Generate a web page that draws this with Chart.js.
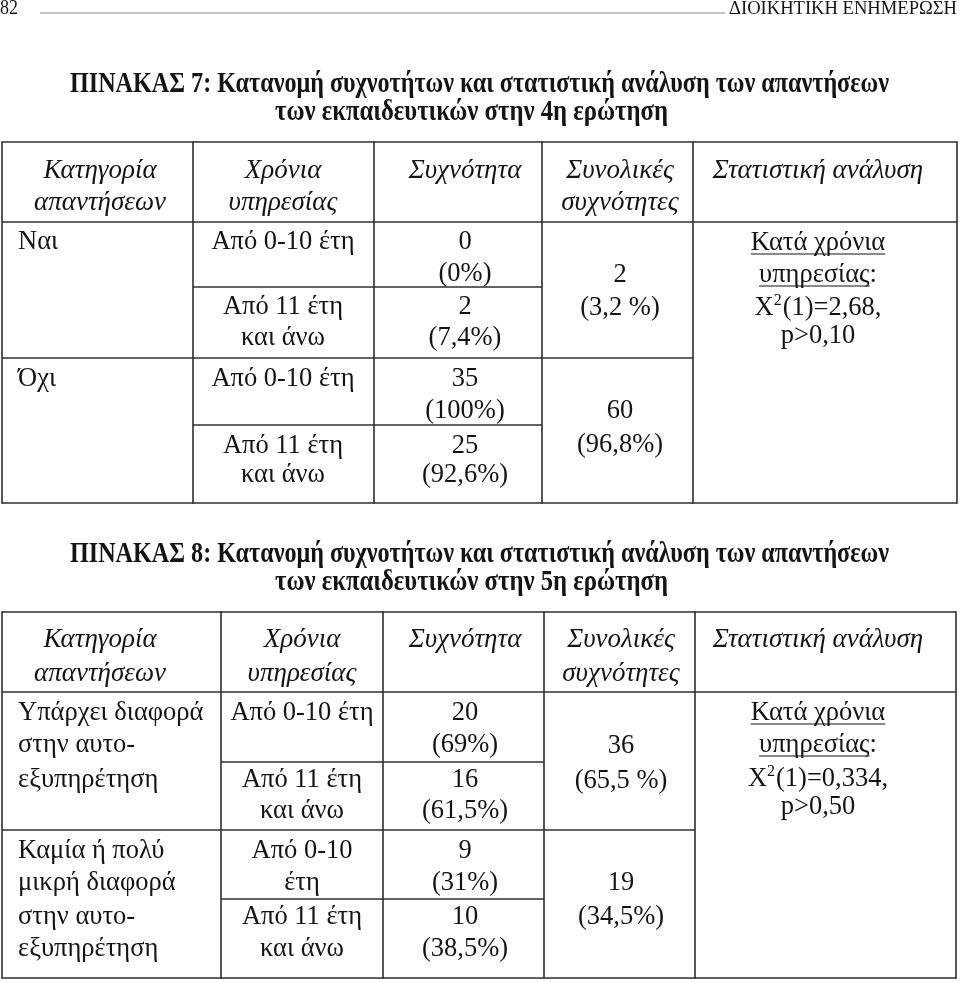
<!DOCTYPE html>
<html lang="el">
<head>
<meta charset="utf-8">
<title>ΠΙΝΑΚΑΣ 7 και 8</title>
<script src="https://cdn.jsdelivr.net/npm/chart.js@4.4.1/dist/chart.umd.min.js"></script>
<style>
  html, body { margin: 0; padding: 0; background: #ffffff; }
  #wrap { width: 960px; height: 982px; position: relative; }
  canvas { display: block; }
</style>
</head>
<body>
<div id="wrap"><canvas id="c" width="960" height="982"></canvas></div>
<script>
// ---------------- DATA ----------------
const pageNumber = "82";
const journalName = "ΔΙΟΙΚΗΤΙΚΗ ΕΝΗΜΕΡΩΣΗ";

const columnHeaders = [
  ["Κατηγορία", "απαντήσεων"],
  ["Χρόνια", "υπηρεσίας"],
  ["Συχνότητα"],
  ["Συνολικές", "συχνότητες"],
  ["Στατιστική ανάλυση"]
];
const statLabel = ["Κατά χρόνια", "υπηρεσίας"];

// Table 7
const t7Title = ["ΠΙΝΑΚΑΣ 7: Κατανομή συχνοτήτων και στατιστική ανάλυση των απαντήσεων",
                 "των εκπαιδευτικών στην 4η ερώτηση"];
const t7Categories = [["Ναι"], ["Όχι"]];
const t7Service = [["Από 0-10 έτη"], ["Από 11 έτη", "και άνω"], ["Από 0-10 έτη"], ["Από 11 έτη", "και άνω"]];
const t7Freq = [0, 2, 35, 25];
const t7FreqPct = ["0%", "7,4%", "100%", "92,6%"];
const t7Totals = [2, 60];
const t7TotalsPct = ["3,2 %", "96,8%"];
const t7Df = 1;
const t7Chi = "2,68";
const t7P = "0,10";

// Table 8
const t8Title = ["ΠΙΝΑΚΑΣ 8: Κατανομή συχνοτήτων και στατιστική ανάλυση των απαντήσεων",
                 "των εκπαιδευτικών στην 5η ερώτηση"];
const t8Categories = [["Υπάρχει διαφορά", "στην αυτο-", "εξυπηρέτηση"],
                      ["Καμία ή πολύ", "μικρή διαφορά", "στην αυτο-", "εξυπηρέτηση"]];
const t8Service = [["Από 0-10 έτη"], ["Από 11 έτη", "και άνω"], ["Από 0-10", "έτη"], ["Από 11 έτη", "και άνω"]];
const t8Freq = [20, 16, 9, 10];
const t8FreqPct = ["69%", "61,5%", "31%", "38,5%"];
const t8Totals = [36, 19];
const t8TotalsPct = ["65,5 %", "34,5%"];
const t8Df = 1;
const t8Chi = "0,334";
const t8P = "0,50";

// ---------------- LAYOUT (positions in page units) ----------------
const layout7 = {
  cols: [2, 193, 374, 542, 693, 957],
  top: 142, headBottom: 222, subLines: [287, 425], mid: 358, bottom: 503,
  headBase: [178, 210],
  catBase: [[249], [386]],
  subBase: [[249, 281], [314, 345], [386, 418], [453, 482]],
  totBase: [[282, 315], [418, 452]],
  statBase: [250, 282, 315, 343],
  centers: [100, 283, 465, 620, 818],
  catX: 18,
  titleBase: [92, 120]
};
const layout8 = {
  cols: [2, 221, 383, 544, 695, 956],
  top: 612, headBottom: 692, subLines: [762, 899], mid: 830, bottom: 978,
  headBase: [647, 681],
  catBase: [[720, 752, 787], [858, 890, 924, 956]],
  subBase: [[720, 752], [787, 818], [858, 890], [924, 956]],
  totBase: [[753, 788], [890, 924]],
  statBase: [720, 752, 786, 814],
  centers: [100, 302, 465, 621, 818],
  catX: 18,
  titleBase: [562, 590]
};
const titleSpans = [[70, 889], [275, 668]];

const tables = [
  { title: t7Title, cats: t7Categories, service: t7Service, freq: t7Freq, pct: t7FreqPct,
    totals: t7Totals, totPct: t7TotalsPct, df: t7Df, chi: t7Chi, p: t7P, L: layout7 },
  { title: t8Title, cats: t8Categories, service: t8Service, freq: t8Freq, pct: t8FreqPct,
    totals: t8Totals, totPct: t8TotalsPct, df: t8Df, chi: t8Chi, p: t8P, L: layout8 }
];

const SERIF = "'Liberation Serif', 'DejaVu Serif', serif";
const BODY = "26.5px " + SERIF;
const HEAD = "italic 27px " + SERIF;
const TITLE = "bold 29px " + SERIF;
const INK = "#141414";
const RULE = "#2e2e2e";

// ---------------- DRAWING PLUGIN ----------------
const tablePlugin = {
  id: 'tablePlugin',
  beforeDraw(chart) {
    const c = chart.ctx;
    c.save();
    c.fillStyle = '#ffffff';
    c.fillRect(0, 0, chart.width, chart.height);
    c.restore();
  },
  afterDraw(chart) {
    const ctx = chart.ctx;
    const xs = chart.scales.x, ys = chart.scales.y;
    const X = v => xs.getPixelForValue(v);
    const Y = v => ys.getPixelForValue(v);

    function text(str, xv, yv, align, font) {
      ctx.font = font;
      ctx.textAlign = align;
      ctx.textBaseline = 'alphabetic';
      ctx.fillStyle = INK;
      ctx.fillText(str, X(xv), Y(yv));
    }
    function fitText(str, x0, x1, yv, font) {
      ctx.save();
      ctx.font = font;
      const w = ctx.measureText(str).width;
      ctx.translate(X(x0), Y(yv));
      ctx.scale((X(x1) - X(x0)) / w, 1);
      ctx.fillStyle = INK; ctx.textAlign = 'left'; ctx.textBaseline = 'alphabetic';
      ctx.fillText(str, 0, 0);
      ctx.restore();
    }
    function hline(x0, x1, yv, w, col) {
      ctx.beginPath();
      ctx.strokeStyle = col; ctx.lineWidth = w;
      ctx.moveTo(X(x0), Y(yv)); ctx.lineTo(X(x1), Y(yv)); ctx.stroke();
    }
    function vline(xv, y0, y1, w, col) {
      ctx.beginPath();
      ctx.strokeStyle = col; ctx.lineWidth = w;
      ctx.moveTo(X(xv), Y(y0)); ctx.lineTo(X(xv), Y(y1)); ctx.stroke();
    }

    ctx.save();
    // page header
    fitText(pageNumber, 0, 18, 14, "21px " + SERIF);
    hline(40, 725, 13, 1, '#8a8a8a');
    fitText(journalName, 729, 957, 14, "18px " + SERIF);

    tables.forEach(t => {
      const L = t.L;
      // titles (condensed bold)
      t.title.forEach((line, i) => fitText(line, titleSpans[i][0], titleSpans[i][1], L.titleBase[i], TITLE));

      // grid
      const c = L.cols;
      const lw = 1.6;
      hline(c[0], c[5], L.top, lw, RULE);
      hline(c[0], c[5], L.headBottom, lw, RULE);
      hline(c[0], c[4], L.mid, lw, RULE);
      hline(c[0], c[5], L.bottom, lw, RULE);
      L.subLines.forEach(yv => hline(c[1], c[3], yv, lw, RULE));
      c.forEach(xv => vline(xv, L.top - lw / 2, L.bottom + lw / 2, lw, RULE));

      // headers
      columnHeaders.forEach((lines, ci) => {
        lines.forEach((s, li) => text(s, L.centers[ci], L.headBase[li], 'center', HEAD));
      });

      // categories
      t.cats.forEach((lines, gi) => {
        lines.forEach((s, li) => text(s, L.catX, L.catBase[gi][li], 'left', BODY));
      });

      // service years + frequencies
      t.service.forEach((lines, ri) => {
        lines.forEach((s, li) => text(s, L.centers[1], L.subBase[ri][li], 'center', BODY));
        text(String(t.freq[ri]), L.centers[2], L.subBase[ri][0], 'center', BODY);
        text("(" + t.pct[ri] + ")", L.centers[2], L.subBase[ri][1], 'center', BODY);
      });

      // totals
      t.totals.forEach((v, gi) => {
        text(String(v), L.centers[3], L.totBase[gi][0], 'center', BODY);
        text("(" + t.totPct[gi] + ")", L.centers[3], L.totBase[gi][1], 'center', BODY);
      });

      // statistics
      const sc = L.centers[4];
      ctx.font = BODY;
      const s1w = ctx.measureText(statLabel[0]).width;
      text(statLabel[0], sc, L.statBase[0], 'center', BODY);
      hline(sc - s1w / 2, sc + s1w / 2, L.statBase[0] + 4, 1.2, INK);
      ctx.font = BODY;
      const lab2 = statLabel[1];
      const l2w = ctx.measureText(lab2).width;
      const colw = ctx.measureText(":").width;
      const l2x = sc - (l2w + colw) / 2;
      text(lab2 + ":", l2x, L.statBase[1], 'left', BODY);
      hline(l2x, l2x + l2w, L.statBase[1] + 4, 1.2, INK);
      ctx.font = BODY;
      const partA = "X";
      const partC = "(" + t.df + ")=" + t.chi + ",";
      const aw = ctx.measureText(partA).width;
      const cw = ctx.measureText(partC).width;
      ctx.font = "16px " + SERIF;
      const bw = ctx.measureText("2").width;
      const total = aw + bw + 1 + cw;
      const x0 = sc - total / 2;
      text(partA, x0, L.statBase[2], 'left', BODY);
      text("2", x0 + aw, L.statBase[2] - 10, 'left', "16px " + SERIF);
      text(partC, x0 + aw + bw + 1, L.statBase[2], 'left', BODY);
      text("p>" + t.p, sc, L.statBase[3], 'center', BODY);
    });
    ctx.restore();
  }
};

new Chart(document.getElementById('c'), {
  type: 'scatter',
  data: { datasets: [] },
  options: {
    responsive: false,
    animation: false,
    events: [],
    layout: { padding: 0 },
    plugins: { legend: { display: false }, tooltip: { enabled: false }, title: { display: false } },
    scales: {
      x: { type: 'linear', min: 0, max: 960, display: false },
      y: { type: 'linear', min: 0, max: 982, reverse: true, display: false }
    }
  },
  plugins: [tablePlugin]
});
</script>
</body>
</html>
